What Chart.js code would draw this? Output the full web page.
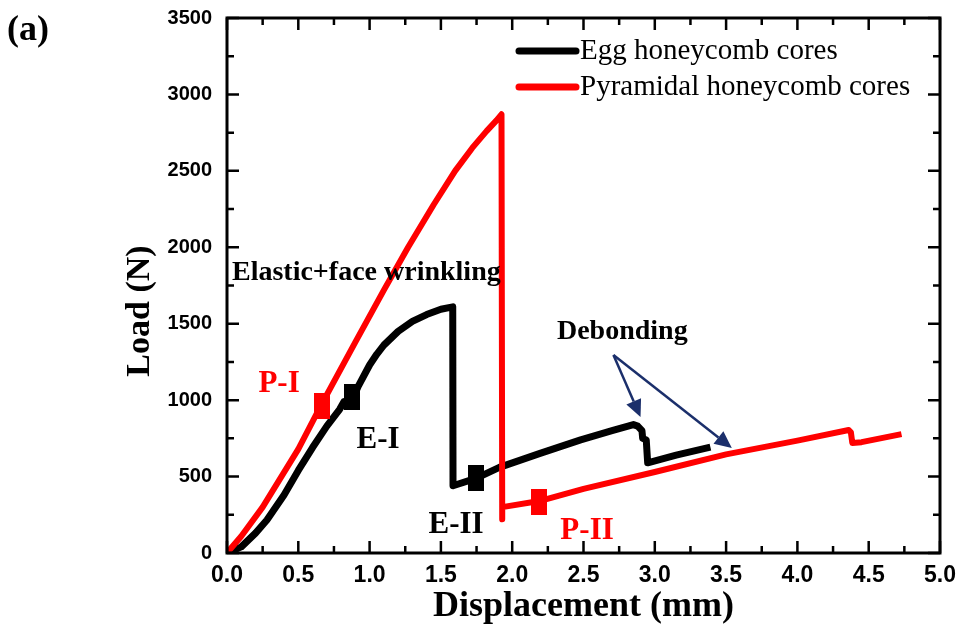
<!DOCTYPE html>
<html>
<head>
<meta charset="utf-8">
<script src="https://cdn.jsdelivr.net/npm/chart.js@4.4.0/dist/chart.umd.min.js"></script>
<style>
  html, body { margin: 0; padding: 0; background: #fff; }
  #wrap { width: 963px; height: 641px; }
</style>
</head>
<body>
<div id="wrap"><canvas id="loadChart" width="963" height="641"></canvas></div>
<script>
// Egg honeycomb cores (black curve)
const eggX = [0, 0.1, 0.2, 0.28, 0.4, 0.5, 0.6, 0.7, 0.79, 0.82, 0.88, 0.92, 1.0, 1.05, 1.1, 1.2, 1.3, 1.4, 1.5, 1.583, 1.585, 1.75, 1.91, 2.19, 2.48, 2.7, 2.85, 2.88, 2.91, 2.915, 2.94, 2.95, 3.15, 3.39];
const eggY = [0, 40, 130, 216, 380, 540, 690, 830, 940, 990, 1005, 1090, 1230, 1300, 1360, 1450, 1515, 1560, 1595, 1610, 440, 490, 560, 650, 740, 800, 840, 830, 800, 750, 740, 590, 640, 693];

// Pyramidal honeycomb cores (red curve)
const pyrX = [0, 0.1, 0.25, 0.5, 0.65, 0.9, 1.1, 1.27, 1.45, 1.6, 1.72, 1.82, 1.89, 1.925, 1.93, 1.93, 2.19, 2.5, 3.0, 3.5, 4.0, 4.36, 4.375, 4.385, 4.45, 4.73];
const pyrY = [0, 110, 300, 680, 950, 1380, 1720, 2000, 2280, 2500, 2650, 2760, 2830, 2870, 220, 300, 340, 420, 530, 645, 735, 805, 790, 720, 725, 778];

// square markers
const eggMarkX = [0.877, 1.746];
const eggMarkY = [1020, 490];
const pyrMarkX = [0.666, 2.188];
const pyrMarkY = [961, 334];

const seriesNames = ['Egg honeycomb cores', 'Pyramidal honeycomb cores'];
const seriesColors = ['#000000', '#ff0000'];

// annotation labels (data units)
const noteText = ['Elastic+face wrinkling', 'Debonding', 'P-I', 'E-I', 'E-II', 'P-II'];
const noteX = [0.035, 2.314, 0.365, 1.06, 1.606, 2.525];
const noteY = [1831, 1445, 1105, 739, 183, 144];
const noteAlign = ['left', 'left', 'center', 'center', 'center', 'center'];
const noteColor = ['#000', '#000', '#ff0000', '#000', '#000', '#ff0000'];
const noteSize = [28, 28, 31, 31, 31, 31];

// debonding arrows
const arrowFrom = [2.71, 1295];
const arrowToX = [2.90, 3.54];
const arrowToY = [890, 687];

const xTickStep = 0.5;
const yTickStep = 500;

function rectMarker(color) {
  const c = document.createElement('canvas');
  c.width = 16; c.height = 26;
  const g = c.getContext('2d');
  g.fillStyle = color;
  g.fillRect(0, 0, 16, 26);
  return c;
}

function toPoints(xs, ys) {
  return xs.map((x, i) => ({ x: x, y: ys[i] }));
}

const serif = '"Liberation Serif", "Times New Roman", serif';

// inward ticks on all four sides + frame
const frameTicks = {
  id: 'frameTicks',
  afterDraw(chart) {
    const ctx = chart.ctx;
    const a = chart.chartArea;
    const xs = chart.scales.x, ys = chart.scales.y;
    ctx.save();
    ctx.strokeStyle = '#000';
    ctx.lineWidth = 2.5;
    for (let v = xs.min; v <= xs.max + 1e-9; v += xTickStep / 2) {
      const px = xs.getPixelForValue(v);
      const len = Math.abs(v / xTickStep - Math.round(v / xTickStep)) < 1e-6 ? 12 : 7;
      ctx.beginPath();
      ctx.moveTo(px, a.bottom); ctx.lineTo(px, a.bottom - len);
      ctx.moveTo(px, a.top); ctx.lineTo(px, a.top + len);
      ctx.stroke();
    }
    for (let v = ys.min; v <= ys.max + 1e-9; v += yTickStep / 2) {
      const py = ys.getPixelForValue(v);
      const len = v % yTickStep === 0 ? 12 : 7;
      ctx.beginPath();
      ctx.moveTo(a.left, py); ctx.lineTo(a.left + len, py);
      ctx.moveTo(a.right, py); ctx.lineTo(a.right - len, py);
      ctx.stroke();
    }
    ctx.lineWidth = 3;
    ctx.strokeRect(a.left, a.top, a.right - a.left, a.bottom - a.top);
    ctx.restore();
  }
};

// legend, labels, arrows and "(a)"
const notes = {
  id: 'notes',
  afterDatasetsDraw(chart) {
    const ctx = chart.ctx;
    const a = chart.chartArea;
    const xs = chart.scales.x, ys = chart.scales.y;
    ctx.save();

    // legend
    ctx.font = '29px ' + serif;
    ctx.textBaseline = 'middle';
    ctx.textAlign = 'left';
    ctx.lineCap = 'round';
    seriesNames.forEach((name, i) => {
      const y = a.top + 33 + i * 36;
      ctx.strokeStyle = seriesColors[i];
      ctx.lineWidth = 7;
      ctx.beginPath();
      ctx.moveTo(a.right - 421, y); ctx.lineTo(a.right - 364, y);
      ctx.stroke();
      ctx.fillStyle = '#000';
      ctx.fillText(name, a.right - 360, y);
    });

    // text notes
    noteText.forEach((t, i) => {
      ctx.font = 'bold ' + noteSize[i] + 'px ' + serif;
      ctx.fillStyle = noteColor[i];
      ctx.textAlign = noteAlign[i];
      ctx.fillText(t, xs.getPixelForValue(noteX[i]), ys.getPixelForValue(noteY[i]));
    });

    // arrows
    const fx = xs.getPixelForValue(arrowFrom[0]), fy = ys.getPixelForValue(arrowFrom[1]);
    ctx.strokeStyle = '#1b2f6b';
    ctx.fillStyle = '#1b2f6b';
    ctx.lineWidth = 2.5;
    ctx.lineCap = 'butt';
    arrowToX.forEach((tx0, i) => {
      const tx = xs.getPixelForValue(tx0), ty = ys.getPixelForValue(arrowToY[i]);
      const ang = Math.atan2(ty - fy, tx - fx);
      const hl = 17, hw = 8;
      const bx = tx - hl * Math.cos(ang), by = ty - hl * Math.sin(ang);
      ctx.beginPath();
      ctx.moveTo(fx, fy); ctx.lineTo(bx, by);
      ctx.stroke();
      ctx.beginPath();
      ctx.moveTo(tx, ty);
      ctx.lineTo(bx + hw * Math.sin(ang), by - hw * Math.cos(ang));
      ctx.lineTo(bx - hw * Math.sin(ang), by + hw * Math.cos(ang));
      ctx.closePath();
      ctx.fill();
    });

    // panel label
    ctx.font = 'bold 36px ' + serif;
    ctx.fillStyle = '#000';
    ctx.textAlign = 'left';
    ctx.textBaseline = 'middle';
    ctx.fillText('(a)', 7, 31);
    ctx.restore();
  }
};

new Chart(document.getElementById('loadChart'), {
  type: 'scatter',
  data: {
    datasets: [
      {
        label: seriesNames[0],
        data: toPoints(eggX, eggY),
        showLine: true,
        borderColor: seriesColors[0],
        borderWidth: 7,
        borderJoinStyle: 'round',
        pointRadius: 0,
        order: 2
      },
      {
        label: seriesNames[1],
        data: toPoints(pyrX, pyrY),
        showLine: true,
        borderColor: seriesColors[1],
        borderWidth: 6,
        borderJoinStyle: 'round',
        pointRadius: 0,
        order: 1
      },
      {
        label: 'E marks',
        data: toPoints(eggMarkX, eggMarkY),
        pointStyle: rectMarker('#000'),
        order: 0
      },
      {
        label: 'P marks',
        data: toPoints(pyrMarkX, pyrMarkY),
        pointStyle: rectMarker('#ff0000'),
        order: 0
      }
    ]
  },
  options: {
    responsive: false,
    animation: false,
    devicePixelRatio: 1,
    layout: { padding: { top: 18, right: 23, left: 0, bottom: 0 } },
    plugins: {
      legend: { display: false },
      tooltip: { enabled: false }
    },
    scales: {
      x: {
        type: 'linear',
        min: 0,
        max: 5,
        grid: { display: false, drawTicks: false },
        border: { display: false },
        ticks: {
          stepSize: xTickStep,
          padding: 9,
          color: '#000',
          font: { family: '"Liberation Sans Narrow", "Arial Narrow", sans-serif', size: 23, weight: 'bold' },
          callback: v => v.toFixed(1)
        },
        title: {
          display: true,
          text: 'Displacement (mm)',
          color: '#000',
          font: { family: serif, size: 36, weight: 'bold' },
          padding: { top: 0, bottom: 13 }
        },
        afterFit: s => { s.height = 88; s.paddingLeft = 0; s.paddingRight = 0; }
      },
      y: {
        type: 'linear',
        min: 0,
        max: 3500,
        grid: { display: false, drawTicks: false },
        border: { display: false },
        ticks: {
          stepSize: yTickStep,
          padding: 15,
          color: '#000',
          font: { family: '"Liberation Sans", Arial, sans-serif', size: 20, weight: 'bold' },
          callback: v => String(v)
        },
        title: {
          display: true,
          text: 'Load (N)      ',
          color: '#000',
          font: { family: serif, size: 34, weight: 'bold' },
          padding: { top: 120, bottom: 0 }
        },
        afterFit: s => { s.width = 227; s.paddingTop = 0; s.paddingBottom = 0; }
      }
    }
  },
  plugins: [frameTicks, notes]
});
</script>
</body>
</html>
